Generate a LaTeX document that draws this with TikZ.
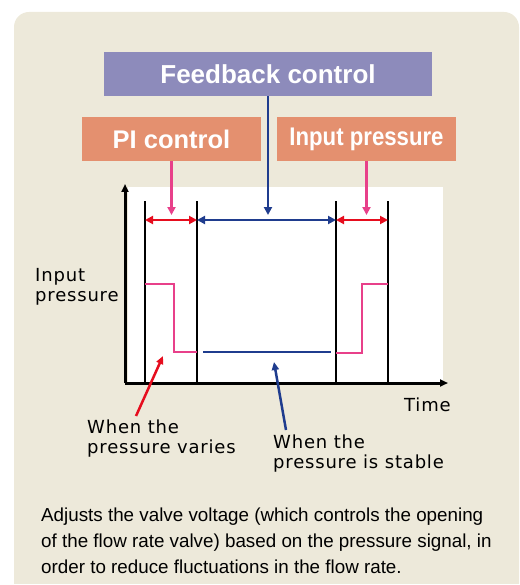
\documentclass[tikz,border=0pt]{standalone}
\usepackage{fontspec}
\setmainfont{Liberation Sans}
\newfontfamily\plotfont[LetterSpace=4.5]{DejaVu Sans}
\usetikzlibrary{arrows.meta,positioning}
\definecolor{Panel}{HTML}{EDE9DA}
\definecolor{Violet}{HTML}{8D8BBB}
\definecolor{Salmon}{HTML}{E4906F}
\definecolor{Rose}{HTML}{E8408A}
\definecolor{SigRed}{HTML}{E60D1E}
\definecolor{Navy}{HTML}{1F3C8E}

\begin{document}
\begin{tikzpicture}[x=1pt,y=-1pt,
  banner/.style={fill=Violet,text=white,minimum width=328pt,minimum height=44pt,inner sep=0pt,font=\fontsize{26}{30}\selectfont\bfseries},
  tag/.style={fill=Salmon,text=white,minimum width=179pt,minimum height=44pt,inner sep=0pt,font=\fontsize{25.5}{30}\selectfont\bfseries},
  lbl/.style={anchor=north west,align=left,inner sep=0pt,font=\plotfont\fontsize{18}{20}\selectfont},
  bar/.style={black,line width=2.6pt},
  axis/.style={black,line width=3pt,-{Triangle[length=8pt,width=7pt]}},
  span/.style={line width=2.6pt,{Triangle[length=8pt,width=8pt]}-{Triangle[length=8pt,width=8pt]}},
  feed/.style={line width=2.5pt,-{Triangle[length=8pt,width=8pt]}},
  sig/.style={Rose,line width=2.6pt}]
\useasboundingbox (0,0) rectangle (519,585);
\begin{scope}
\clip (0,0) rectangle (519,583);
\fill[Panel,rounded corners=15pt] (14,12) rectangle (519,640);
\end{scope}

% boxes
\node[banner] (fb) at (268,74) {Feedback control};
\node[tag] (pi) at (171.5,139) {PI control};
\node[tag] (inp) at (366.5,139) {\scalebox{0.87}[1]{Input pressure}};

% plot
\fill[white] (128,187) rectangle (443,383);
\coordinate (O) at (125,383);
\coordinate (pin) at (0,215);
\foreach \x in {145,197,336,388}
  \draw[bar] (\x,383) -- (\x,201);
\draw[axis] (O) -- (125,184);
\draw[axis] (O) -- (448,383);
\draw[span,SigRed] (145,220) -- (197,220);
\draw[span,Navy] (197,220) -- (336,220);
\draw[span,SigRed] (336,220) -- (388,220);
\draw[feed,Rose] (pi) -- (pi |- pin);
\draw[feed,Navy] (fb) -- (fb |- pin);
\draw[feed,Rose] (inp) -- (inp |- pin);
\draw[sig] (145,284) -- (174,284) -- (174,352) -- (197,352);
\draw[sig] (336,353) -- (362,353) -- (362,284) -- (388,284);
\draw[Navy,line width=2.6pt] (203,352) -- (331,352);

% labels
\node[lbl] (ylab) at (35,268) {Input\\pressure};
\node[lbl] (xlab) at (404,398) {Time};
\node[lbl] (varies) at (87,420) {When the\\pressure varies};
\node[lbl] (stable) at (273,435) {When the\\pressure is stable};
\coordinate (vartail) at (136,416);
\coordinate (varhead) at (163,356);
\coordinate (stbtail) at (286,430);
\coordinate (stbhead) at (274,362);
\draw[SigRed,line width=2.5pt,-{Triangle[length=8pt,width=7pt]}] (vartail) -- (varhead);
\draw[Navy,line width=2.5pt,-{Triangle[length=8pt,width=7pt]}] (stbtail) -- (stbhead);

\node[anchor=north west,align=left,inner sep=0pt,font=\fontsize{18.8}{26}\selectfont] (note) at (41,508)
  {Adjusts the valve voltage (which controls the opening\\of the flow rate valve) based on the pressure signal, in\\order to reduce fluctuations in the flow rate.};
\end{tikzpicture}
\end{document}
